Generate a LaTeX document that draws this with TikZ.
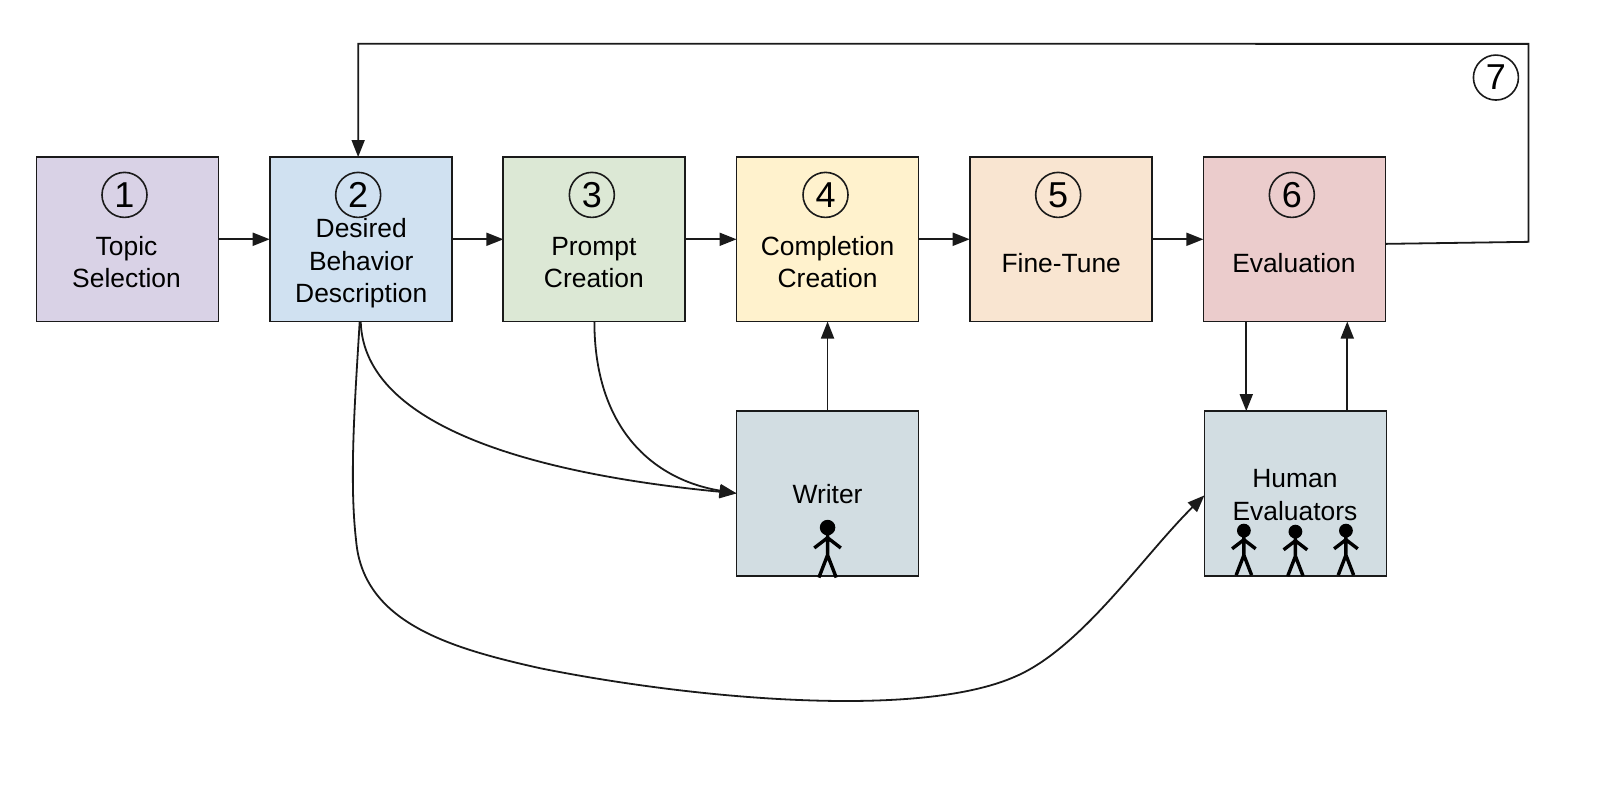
\documentclass[tikz,border=0pt]{standalone}
\usepackage{fontspec}
\setmainfont{Liberation Sans}
\usetikzlibrary{arrows.meta,calc}
\definecolor{cone}{HTML}{D9D2E6}
\definecolor{ctwo}{HTML}{D0E1F1}
\definecolor{cthree}{HTML}{DCE8D5}
\definecolor{cfour}{HTML}{FFF2CD}
\definecolor{cfive}{HTML}{F9E5D1}
\definecolor{csix}{HTML}{EBCCCC}
\definecolor{cgrey}{HTML}{D2DDE2}
\definecolor{ink}{HTML}{1A1A1A}
\tikzset{
  box/.style={draw=ink,line width=1.8pt,minimum width=182pt,minimum height=164.5pt,inner sep=0pt,outer sep=0pt},
  lab/.style={font=\fontsize{26.4}{32.3}\selectfont,align=center,inner sep=0pt,text=black},
  num/.style={draw=ink,circle,line width=1.6pt,minimum size=45pt,inner sep=0pt,outer sep=0pt,font=\fontsize{36}{36}\selectfont},
  conn/.style={draw=ink,line width=1.8pt,-{Triangle[length=17pt,width=13pt]}},
  pics/person/.style={code={
    \fill[black] (0,0) circle (7.6);
    \draw[black,line width=3.4pt,line join=round] (0,0) -- (0,27) (-13,20) -- (0,10) -- (13,20) (-8.5,49) -- (0,27) -- (8.5,49);
  }}
}
\begin{document}
\begin{tikzpicture}[x=1.0204pt,y=-1.0204pt]
\useasboundingbox (0,0) rectangle (1568,774.2);
\node[box,fill=cone]   (b1) at (125,234.5) {};
\node[box,fill=ctwo]   (b2) at (353.5,234.5) {};
\node[box,fill=cthree] (b3) at (582.5,234.5) {};
\node[box,fill=cfour]  (b4) at (811,234.5) {};
\node[box,fill=cfive]  (b5) at (1039.5,234.5) {};
\node[box,fill=csix]   (b6) at (1268.5,234.5) {};
\node[box,fill=cgrey]  (wr) at (811,483.5) {};
\node[box,fill=cgrey]  (he) at (1269.5,483.5) {};
\node[num] (n1) at (122,191) {1};
\node[num] (n2) at (351,191) {2};
\node[num] (n3) at (580,191) {3};
\node[num] (n4) at (809,191) {4};
\node[num] (n5) at (1037,191) {5};
\node[num] (n6) at (1266,191) {6};
\node[num] (n7) at (1466,76) {7};
\node[lab] (t1) at (124,257) {Topic\\Selection};
\node[lab] (t2) at (354,258) {Desired\\Behavior\\Description};
\node[lab] (t3) at (582,257) {Prompt\\Creation};
\node[lab] (t4) at (811,257) {Completion\\Creation};
\node[lab] (t5) at (1040,258) {Fine-Tune};
\node[lab] (t6) at (1268,258) {Evaluation};
\node[lab] (t7) at (811,484) {Writer};
\node[lab] (t8) at (1269,485) {Human\\Evaluators};
\pic at (811,517) {person};
\pic[scale=.89] at (1219,520) {person};
\pic[scale=.89] at (1269.5,521) {person};
\pic[scale=.89] at (1319,520) {person};
\draw[conn] (b1.east) -- (b2.west);
\draw[conn] (b2.east) -- (b3.west);
\draw[conn] (b3.east) -- (b4.west);
\draw[conn] (b4.east) -- (b5.west);
\draw[conn] (b5.east) -- (b6.west);
\draw[conn] (wr.north) -- (b4.south);
\draw[conn] ($(b6.south west)+(42,0)$) -- ($(he.north west)+(41,0)$);
\draw[conn] ($(he.north west)+(140,0)$) -- ($(b6.south west)+(141,0)$);
\coordinate (c1) at ($(b6.east)+(0,4.5)$);
\coordinate (c2) at (1498,237);
\coordinate (c3) at (1498,43);
\coordinate (c4) at ($(b2.north)+(-2.5,-111)$);
\coordinate (c5) at ($(b2.north)+(-2.5,0)$);
\draw[conn,line join=miter] (c1) -- (c2) -- (c3) -- (c4) -- (c5);
\coordinate (wl) at (wr.west);
\draw[conn] (b2.south) .. controls ($(b2.south)+(3,105)$) and (530,465) .. (wl);
\draw[conn] (b3.south) .. controls ($(b3.south)+(0,105)$) and (640,470) .. (wl);
\coordinate (hl) at ($(he.west)+(0,2)$);
\draw[conn] ($(b2.south)+(-1,0)$) .. controls (348,390) and (342,470) .. (349,530)
  .. controls (356,610) and (440,635) .. (530,655)
  .. controls (680,685) and (900,705) .. (995,663)
  .. controls (1060,635) and (1120,545) .. (hl);
\end{tikzpicture}
\end{document}
